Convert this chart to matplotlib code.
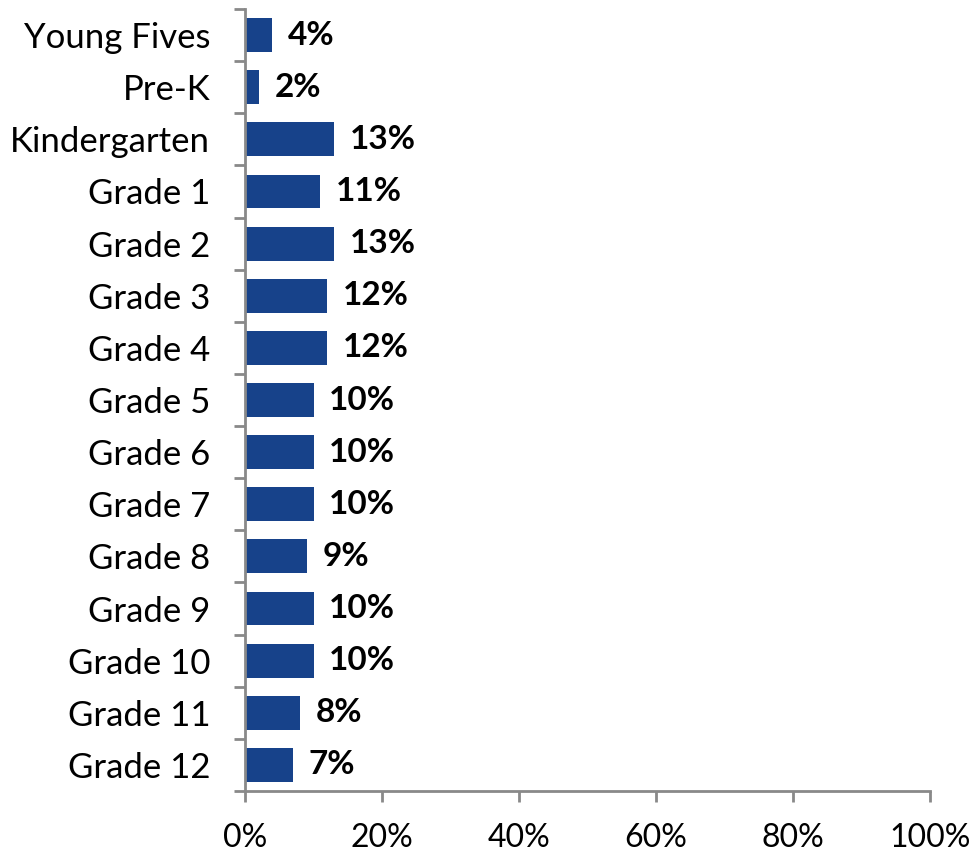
import matplotlib.pyplot as plt
import numpy as np

# データ
grades = ['Young Fives', 'Pre-K', 'Kindergarten', 'Grade 1', 'Grade 2', 'Grade 3',
          'Grade 4', 'Grade 5', 'Grade 6', 'Grade 7', 'Grade 8', 'Grade 9',
          'Grade 10', 'Grade 11', 'Grade 12']
pct = [4, 2, 13, 11, 13, 12, 12, 10, 10, 10, 9, 10, 10, 8, 7]
xticks = [0, 20, 40, 60, 80, 100]

plt.rcParams['font.family'] = ['Lato', 'DejaVu Sans']

fig = plt.figure(figsize=(9.73, 8.55), dpi=100)
ax = fig.add_axes([245 / 973, 64 / 855, 685 / 973, 782 / 855])

y = np.arange(len(grades))
ax.barh(y, pct, height=0.65, color='#17428A')
for yi, v in zip(y, pct):
    ax.text(v + 2.3, yi, f'{v}%', va='center', ha='left', fontsize=24, fontweight='bold')

ax.set_xlim(0, 100)
ax.set_ylim(len(grades) - 0.5, -0.5)
ax.set_xticks(xticks)
ax.set_xticklabels([f'{t}%' for t in xticks], fontsize=23)
ax.set_yticks(y)
ax.set_yticklabels(grades, fontsize=25)
ax.set_yticks(np.arange(-0.5, len(grades)), minor=True)
ax.tick_params(axis='y', which='major', length=0, pad=25)
ax.tick_params(axis='y', which='minor', length=8, color='#898989', width=2)
ax.tick_params(axis='x', length=8, color='#898989', width=2, pad=15)

for s in ['top', 'right']:
    ax.spines[s].set_visible(False)
for s in ['left', 'bottom']:
    ax.spines[s].set_color('#898989')
    ax.spines[s].set_linewidth(2)

fig.savefig('out.png', dpi=100)
